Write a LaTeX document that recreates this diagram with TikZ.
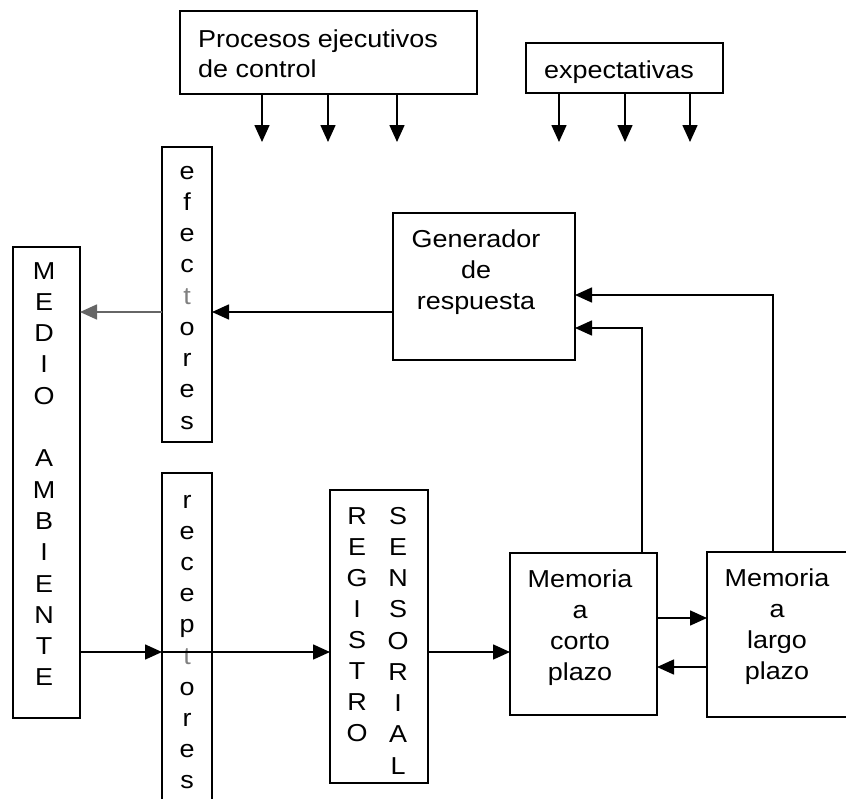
\documentclass[tikz,border=0pt]{standalone}
\usepackage{fontspec}
\setmainfont[FakeStretch=1.1]{Liberation Sans}
\usetikzlibrary{arrows.meta}
\begin{document}
\begin{tikzpicture}[x=1pt,y=-1pt,
  box/.style={draw, line width=1.6pt, inner sep=0pt, outer sep=0pt},
  lt/.style={font=\fontsize{24.5}{31}\selectfont, inner sep=0pt, anchor=base},
  arr/.style={line width=1.6pt, -{Triangle[length=17pt,width=15pt]}},
]
\useasboundingbox (0,0) rectangle (846,798);

% boxes
\node[box, minimum width=297, minimum height=83] (proc) at (328.5,52.5) {};
\node[box, minimum width=197, minimum height=50] (exp) at (624.5,68) {};
\node[box, minimum width=50, minimum height=295] (eff) at (187,294.5) {};
\node[box, minimum width=67, minimum height=471] (medio) at (46.5,482.5) {};
\node[box, minimum width=182, minimum height=147] (gen) at (484,286.5) {};
\node[box, minimum width=50, minimum height=347] (rec) at (187,646.5) {};
\node[box, minimum width=98, minimum height=293] (reg) at (379,636.5) {};
\node[box, minimum width=147, minimum height=162] (corto) at (583.5,634) {};
\node[box, minimum width=163, minimum height=165] (largo) at (788.5,634.5) {};

% texts
\node[lt, anchor=base west] (proct1) at (198,47) {Procesos ejecutivos};
\node[lt, anchor=base west] (proct2) at (198,77) {de control};
\node[lt] (expt) at (619,78) {expectativas};
\foreach \w [count=\i] in {Generador,de,respuesta}
  \node[lt] (gent\i) at (476,{247+(\i-1)*31}) {\w};
\foreach \c [count=\i] in {e,f,e,c,{\textcolor{black!50}{t}},o,r,e,s}
  \node[lt] (efft\i) at (187,{179+(\i-1)*31.25}) {\c};
\foreach \c [count=\i] in {M,E,D,I,O,{},A,M,B,I,E,N,T,E}
  \node[lt] (mediot\i) at (44,{279+(\i-1)*31.3}) {\c};
\foreach \c [count=\i] in {r,e,c,e,p,{\textcolor{black!50}{t}},o,r,e,s}
  \node[lt] (rect\i) at (187,{508+(\i-1)*31.2}) {\c};
\foreach \c [count=\i] in {R,E,G,I,S,T,R,O}
  \node[lt] (regta\i) at (357,{524+(\i-1)*31.1}) {\c};
\foreach \c [count=\i] in {S,E,N,S,O,R,I,A,L}
  \node[lt] (regtb\i) at (398,{524+(\i-1)*31.25}) {\c};
\foreach \w [count=\i] in {Memoria,a,corto,plazo}
  \node[lt] (cortot\i) at (580,{587+(\i-1)*31}) {\w};
\foreach \w [count=\i] in {Memoria,a,largo,plazo}
  \node[lt] (largot\i) at (777,{586+(\i-1)*31}) {\w};

% arrow end points
\coordinate (p1) at (262,142);
\coordinate (p2) at (328,142);
\coordinate (p3) at (397,142);
\coordinate (e1) at (559,142);
\coordinate (e2) at (625,142);
\coordinate (e3) at (690,142);
\coordinate (effy) at (0,312);
\coordinate (lvl) at (0,652);
\coordinate (cl1) at (0,618);
\coordinate (cl2) at (0,667);
\coordinate (cup) at (642,328);
\coordinate (lup) at (773,295);

\foreach \p in {p1,p2,p3} \draw[arr] (proc.south -| \p) -- (\p);
\foreach \p in {e1,e2,e3} \draw[arr] (exp.south -| \p) -- (\p);

\draw[arr] (gen.west |- effy) -- (eff.east |- effy);
\draw[arr, draw=black!60] (eff.west |- effy) -- (medio.east |- effy);
\draw[arr] (medio.east |- lvl) -- (rec.west |- lvl);
\draw[arr] (rec.west |- lvl) -- (reg.west |- lvl);
\draw[arr] (reg.east |- lvl) -- (corto.west |- lvl);
\draw[arr] (corto.east |- cl1) -- (largo.west |- cl1);
\draw[arr] (largo.west |- cl2) -- (corto.east |- cl2);
\draw[arr] (corto.north -| cup) -- (cup) -- (gen.east |- cup);
\draw[arr] (largo.north -| lup) -- (lup) -- (gen.east |- lup);
\end{tikzpicture}
\end{document}
